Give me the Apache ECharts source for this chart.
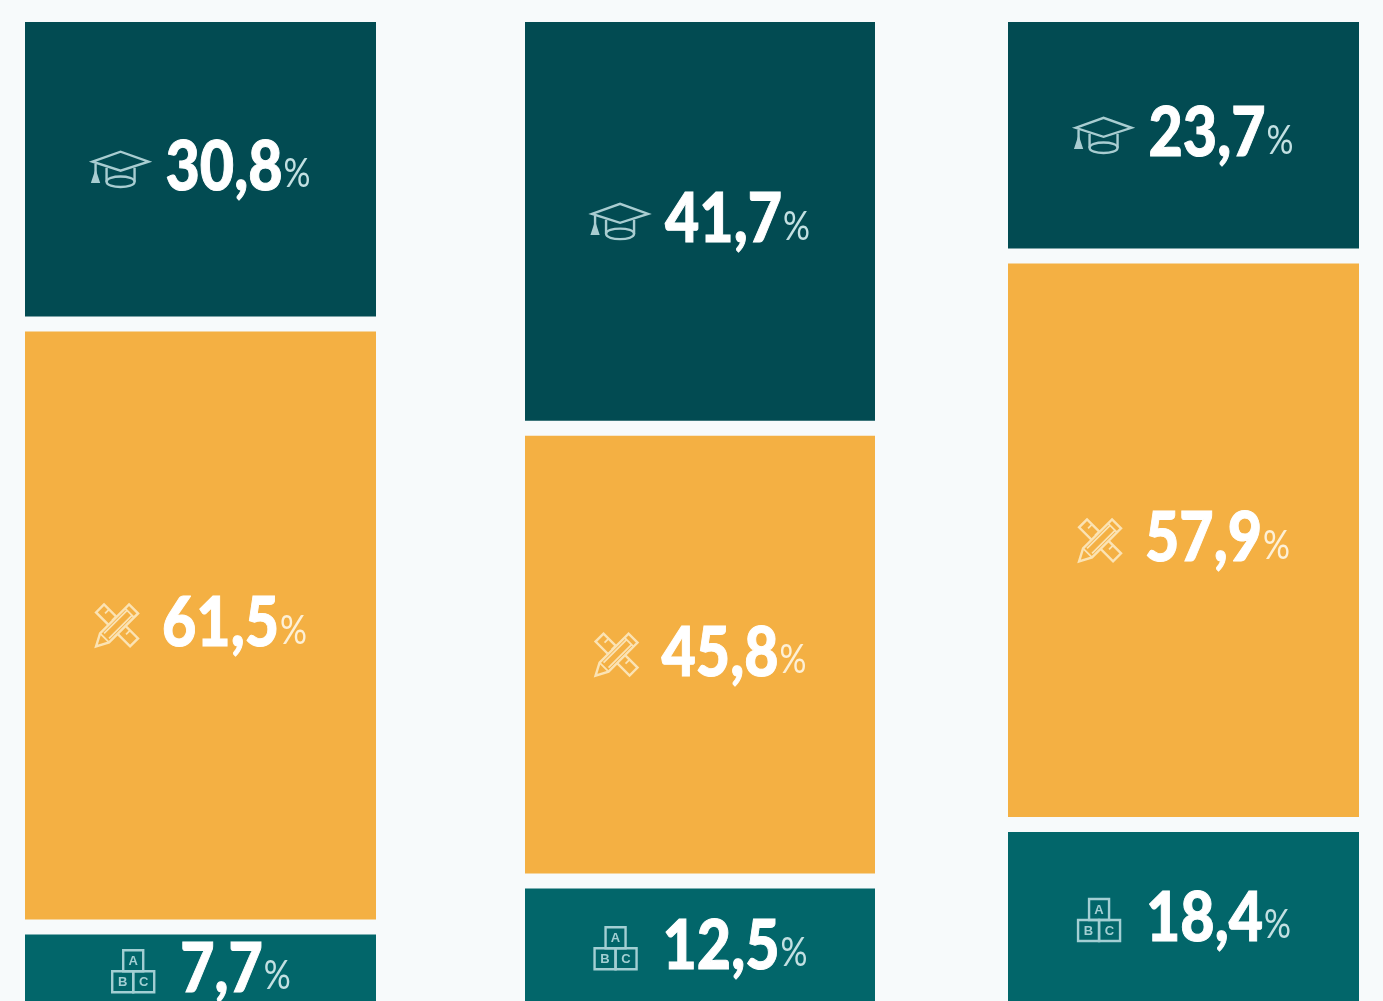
<!DOCTYPE html>
<html><head><meta charset="utf-8">
<style>html,body{margin:0;padding:0;background:#f7fafb;overflow:hidden}#c{width:1383px;height:1001px}</style>
<script src="https://cdn.jsdelivr.net/npm/echarts@6/dist/echarts.min.js"></script>
</head><body><div id="c"></div>
<script>
const column1 = [30.8, 61.5, 7.7];
const column2 = [41.7, 45.8, 12.5];
const column3 = [23.7, 57.9, 18.4];
const columns = [column1, column2, column3];
const levelIcons = ['cap', 'pencil', 'blocks'];
const levelColors = ['#024b52', '#f4b043', '#02666a'];
const iconColors = ['#a9cdd1', '#fbe3b4', '#a3cfd3'];
const pctColors = ['#c3e0e2', '#fdf0d6', '#c3e0e2'];
const columnBoxes = [[25, 351], [525, 350], [1008, 351]];

const GAP = 15, FONT = 'Lato,"Liberation Sans",sans-serif';
const NUM = 68, PCT = 41, NUM_SX = 0.87, PCT_SX = 0.82;
const ICON = {cap: {w: 58, h: 37, gap: 16}, pencil: {w: 44, h: 44, gap: 23}, blocks: {w: 44, h: 44, gap: 25}};
const mc = document.createElement('canvas').getContext('2d');
function tw(t, f) { mc.font = f; return mc.measureText(t).width; }

function drawIcon(kind, x, cy, color) {
  const st = {stroke: color, fill: 'none', lineWidth: 2.4};
  const ic = ICON[kind];
  const ox = x, oy = cy - ic.h / 2;
  const kids = [];
  const path = (d, s) => kids.push({type: 'path', x: ox, y: oy, shape: {pathData: d}, style: Object.assign({}, st, s || {})});
  if (kind === 'cap') {
    path('M1 11 L29 1 L57 11 L29 20 Z');
    path('M15 17 V31 M43 17 V31');
    path('M15 31 C15 24 43 24 43 31 C43 38 15 38 15 31 Z');
    path('M4 13 V24');
    path('M1 31 L4 22 L7 31 Z', {fill: color});
  } else if (kind === 'pencil') {
    path('M9 1 L1 9 L35 43 L43 35 Z');
    path('M14 6 L10 10 M21 13 L17 17 M28 20 L24 24 M35 27 L31 31', {lineWidth: 1.8});
    path('M43 10 L34 1 L5 30 L1 43 L14 39 Z', {fill: levelColors[1]});
    path('M39 14 L30 5 M14 39 L5 30 M32 7 L9 30 M37 12 L14 35', {lineWidth: 1.8});
  } else {
    path('M12 1 H32 V22 H12 Z');
    path('M1 22 H22 V43 H1 Z');
    path('M22 22 H43 V43 H22 Z');
    const lbl = (t, lx, ly) => kids.push({type: 'text', x: ox + lx, y: oy + ly,
      style: {text: t, fill: color, font: 'bold 13px "Liberation Sans",sans-serif', align: 'center', verticalAlign: 'middle'}});
    lbl('A', 22, 12); lbl('B', 11.5, 33); lbl('C', 32.5, 33);
  }
  return kids;
}

function renderLevel(params, api) {
  const idx = api.value(0), start = api.value(1), val = api.value(2), lvl = api.value(3);
  const top = api.coord([idx, start])[1] + lvl * GAP;
  const bottom = api.coord([idx, start + val])[1] + lvl * GAP;
  const center = api.coord([idx, start])[0];
  const w = api.size([1, 0])[0];
  const cy = (top + bottom) / 2;
  const numText = val.toFixed(1).replace('.', ',');
  const numFont = '900 ' + NUM + 'px ' + FONT, pctFont = PCT + 'px ' + FONT;
  const kind = levelIcons[lvl], ic = ICON[kind];
  const nw = tw(numText, numFont) * NUM_SX, pw = tw('%', pctFont) * PCT_SX;
  const total = ic.w + ic.gap + nw + pw;
  let x = center - total / 2;
  const kids = [{type: 'rect', shape: {x: center - w / 2, y: top, width: w, height: bottom - top},
    style: {fill: levelColors[lvl]}}];
  drawIcon(kind, x, cy, iconColors[lvl]).forEach(k => kids.push(k));
  x += ic.w + ic.gap;
  kids.push({type: 'text', x: x, y: cy - 1, scaleX: NUM_SX, style: {text: numText, font: numFont, fill: '#ffffff', stroke: '#ffffff', lineWidth: 1, align: 'left', verticalAlign: 'middle'}});
  x += nw + 1;
  kids.push({type: 'text', x: x, y: cy + 5, scaleX: PCT_SX, style: {text: '%', font: pctFont, fill: pctColors[lvl], align: 'left', verticalAlign: 'middle'}});
  return {type: 'group', children: kids};
}

const grids = [], xAxes = [], yAxes = [], series = [];
columns.forEach((vals, c) => {
  grids.push({left: columnBoxes[c][0], width: columnBoxes[c][1], top: 22, height: 956, containLabel: false});
  xAxes.push({type: 'category', gridIndex: c, data: ['c' + c], show: false});
  yAxes.push({type: 'value', gridIndex: c, min: 0, max: 100, inverse: true, show: false});
  let cum = 0;
  const data = vals.map((v, l) => { const row = [0, cum, v, l]; cum += v; return row; });
  series.push({type: 'custom', xAxisIndex: c, yAxisIndex: c, clip: false, silent: true, animation: false,
    encode: {x: 0, y: 1}, data: data, renderItem: renderLevel});
});
const chart = echarts.init(document.getElementById('c'), null, {renderer: 'canvas'});
chart.setOption({backgroundColor: '#f7fafb', animation: false, grid: grids, xAxis: xAxes, yAxis: yAxes, series: series});
</script></body></html>
